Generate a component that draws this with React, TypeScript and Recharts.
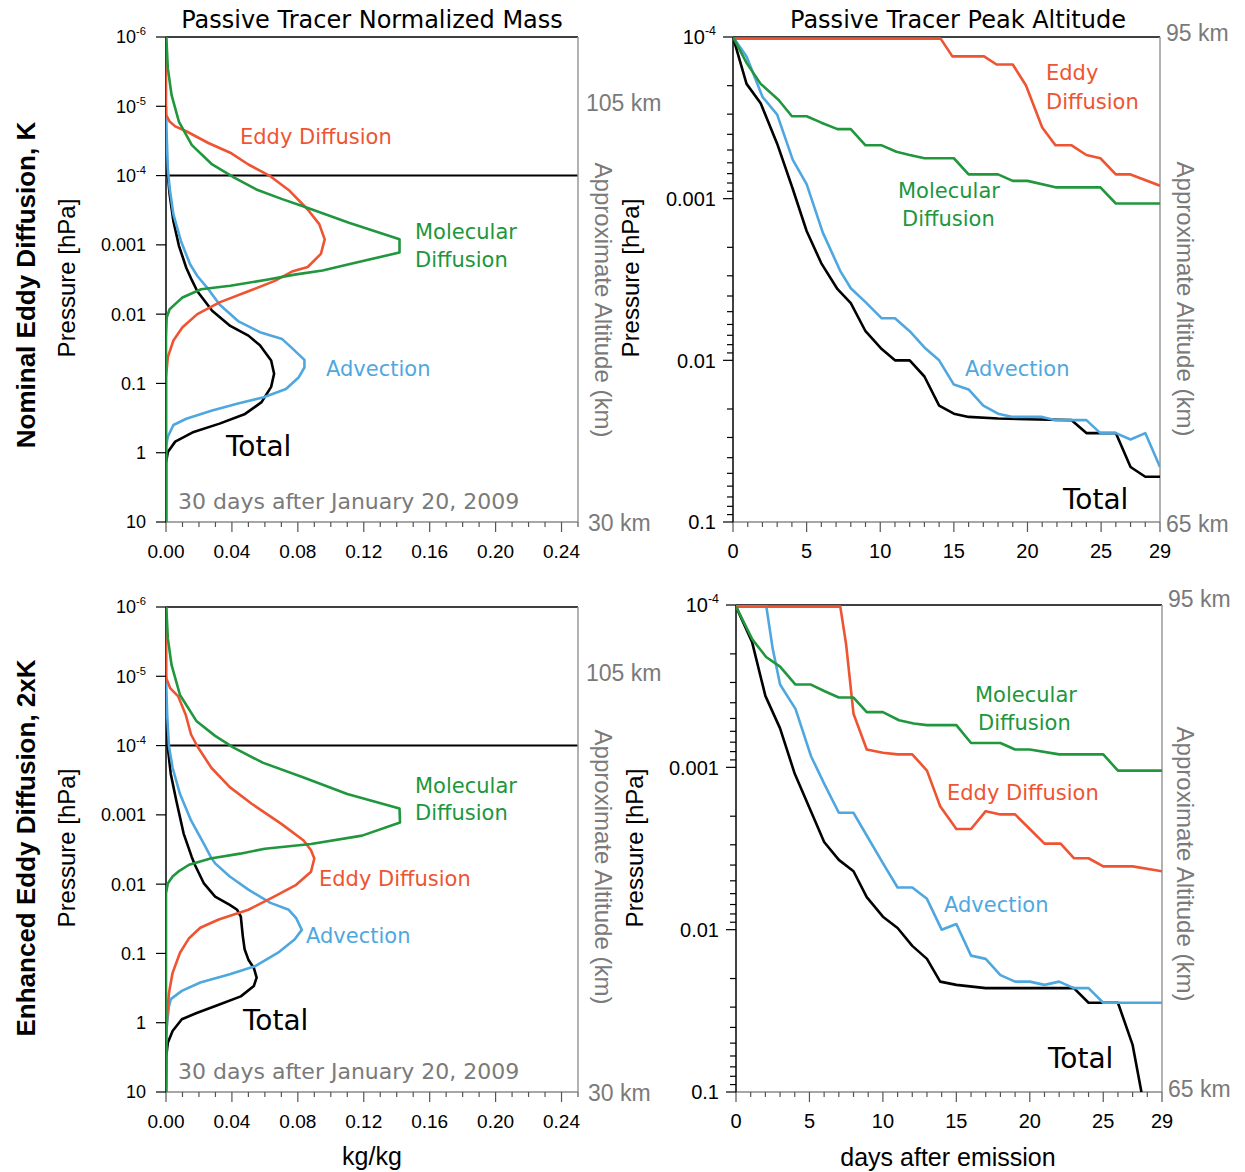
import React from 'react';
import { ScatterChart, Scatter, XAxis, YAxis, ReferenceLine } from 'recharts';

const RED = '#ee5432';
const GREEN = '#20963d';
const BLUE = '#4fa7df';
const BLACK = '#000000';
const GRAY = '#7a7a7a';
const SANS = '"Liberation Sans", Arial, sans-serif';
const HAND = '"DejaVu Sans", "Open Sans", sans-serif';

// --- mass profiles, 30 days after Jan 20 2009 (x = kg/kg, log10 of pressure in hPa)
const nomTotalMass = [0, 0.0004, 0.0011, 0.0022, 0.0045, 0.0078, 0.0123, 0.0157, 0.019, 0.028, 0.039, 0.05, 0.057, 0.0638, 0.0656, 0.0638, 0.058, 0.048, 0.0325, 0.0168, 0.0056, 0.0011, 0, 0];
const nomTotalLogP = [-4.6, -4.25, -4.01, -3.73, -3.34, -2.99, -2.67, -2.49, -2.33, -2.05, -1.83, -1.69, -1.55, -1.33, -1.14, -0.95, -0.73, -0.56, -0.42, -0.3, -0.16, -0.01, 0.15, 1];
const nomAdvMass = [0, 0.0004, 0.0011, 0.0022, 0.0045, 0.009, 0.0146, 0.019, 0.0257, 0.0325, 0.0437, 0.057, 0.0705, 0.076, 0.084, 0.084, 0.0806, 0.0728, 0.0593, 0.0437, 0.028, 0.0123, 0.0045, 0.0011, 0, 0];
const nomAdvLogP = [-5.0, -4.59, -4.11, -3.82, -3.44, -3.06, -2.72, -2.55, -2.36, -2.14, -1.9, -1.74, -1.64, -1.52, -1.34, -1.23, -1.09, -0.92, -0.8, -0.71, -0.61, -0.49, -0.4, -0.23, -0.09, 1];
const nomEddyMass = [0, 0, 0.0022, 0.0056, 0.0123, 0.0257, 0.039, 0.05, 0.0627, 0.075, 0.086, 0.093, 0.0963, 0.094, 0.086, 0.077, 0.066, 0.05, 0.0325, 0.019, 0.01, 0.0045, 0.0011, 0, 0];
const nomEddyLogP = [-6, -4.88, -4.78, -4.71, -4.64, -4.47, -4.33, -4.16, -4.0, -3.78, -3.51, -3.3, -3.08, -2.87, -2.68, -2.62, -2.48, -2.33, -2.17, -2.0, -1.81, -1.62, -1.38, -1.09, 1];
const nomMolMass = [0.0002, 0.0011, 0.0034, 0.0078, 0.0157, 0.028, 0.0414, 0.0548, 0.0705, 0.084, 0.111, 0.1417, 0.1417, 0.111, 0.095, 0.078, 0.062, 0.039, 0.0213, 0.01, 0.0067, 0.0022, 0.0004, 0, 0];
const nomMolLogP = [-6, -5.55, -5.16, -4.78, -4.44, -4.16, -3.97, -3.8, -3.66, -3.55, -3.32, -3.08, -2.89, -2.72, -2.63, -2.57, -2.5, -2.41, -2.36, -2.24, -2.17, -2.07, -1.95, -1.66, 1];

const enhTotalMass = [0, 0.0011, 0.0029, 0.0063, 0.0107, 0.0155, 0.0175, 0.023, 0.0298, 0.0387, 0.0432, 0.0454, 0.0466, 0.0477, 0.05, 0.0533, 0.055, 0.0533, 0.0454, 0.032, 0.0186, 0.0096, 0.004, 0.0011, 0.0002, 0];
const enhTotalLogP = [-4.6, -3.97, -3.59, -3.2, -2.73, -2.4, -2.28, -2.01, -1.82, -1.7, -1.63, -1.53, -1.25, -1.06, -0.91, -0.79, -0.65, -0.53, -0.38, -0.26, -0.14, -0.05, 0.12, 0.29, 0.48, 1];
const enhAdvMass = [0, 0.0007, 0.0018, 0.004, 0.0085, 0.0152, 0.023, 0.027, 0.0298, 0.0387, 0.05, 0.0634, 0.0745, 0.079, 0.0824, 0.078, 0.068, 0.0544, 0.0387, 0.0208, 0.0096, 0.0029, 0.0018, 0.0007, 0, 0];
const enhAdvLogP = [-5.0, -4.45, -3.99, -3.68, -3.3, -2.92, -2.58, -2.4, -2.3, -2.11, -1.92, -1.73, -1.63, -1.51, -1.34, -1.2, -1.01, -0.82, -0.7, -0.58, -0.46, -0.34, -0.24, 0.0, 0.19, 1];
const enhEddyMass = [0, 0.0002, 0.0025, 0.0074, 0.0119, 0.0152, 0.019, 0.0275, 0.0387, 0.052, 0.07, 0.0835, 0.088, 0.09, 0.088, 0.079, 0.0656, 0.05, 0.032, 0.0208, 0.014, 0.0085, 0.004, 0.0018, 0.0007, 0.0002, 0];
const enhEddyLogP = [-6, -4.97, -4.83, -4.71, -4.45, -4.16, -3.99, -3.68, -3.4, -3.16, -2.87, -2.63, -2.49, -2.37, -2.18, -1.99, -1.82, -1.63, -1.49, -1.37, -1.22, -1.01, -0.72, -0.43, -0.1, 0.19, 1];
const enhMolMass = [0.0002, 0.0011, 0.0034, 0.0085, 0.0186, 0.0298, 0.041, 0.059, 0.0835, 0.11, 0.1417, 0.142, 0.119, 0.088, 0.06, 0.045, 0.027, 0.014, 0.0074, 0.004, 0.0011, 0, 0];
const enhMolLogP = [-6, -5.55, -5.16, -4.73, -4.35, -4.14, -3.97, -3.75, -3.54, -3.3, -3.09, -2.89, -2.7, -2.58, -2.51, -2.44, -2.37, -2.28, -2.18, -2.11, -2.01, -1.87, 1];

// --- peak altitude vs days after emission (log10 of pressure in hPa)
const nomTotalDays = [0, 0.92, 1.88, 3.04, 4.06, 5, 6, 7.1, 8, 9, 10.1, 11, 12, 13, 14, 15, 16, 18, 23, 24, 26, 27, 28, 29];
const nomTotalPeak = [-4.0, -3.71, -3.59, -3.33, -3.06, -2.8, -2.6, -2.44, -2.354, -2.18, -2.07, -2.0, -2.0, -1.9, -1.72, -1.67, -1.65, -1.64, -1.63, -1.55, -1.55, -1.34, -1.28, -1.28];
const nomAdvDays = [0, 0.92, 2, 3, 4.06, 5, 6.1, 7.3, 8, 9, 10.1, 11, 12, 13, 14, 15, 16, 17, 18, 19, 21, 21.9, 24, 24.95, 26, 27, 28, 29];
const nomAdvPeak = [-4.0, -3.88, -3.63, -3.52, -3.24, -3.09, -2.79, -2.55, -2.446, -2.36, -2.26, -2.26, -2.18, -2.08, -2.0, -1.85, -1.82, -1.72, -1.67, -1.65, -1.65, -1.63, -1.63, -1.55, -1.55, -1.51, -1.55, -1.34];
const nomEddyDays = [0, 14.1, 14.9, 17.05, 17.9, 19, 19.9, 21, 21.9, 23, 24, 24.95, 26, 27, 29];
const nomEddyPeak = [-3.99, -3.99, -3.88, -3.88, -3.83, -3.83, -3.7, -3.44, -3.33, -3.33, -3.27, -3.25, -3.15, -3.15, -3.08];
const nomMolDays = [0, 0.92, 1.88, 3.1, 4, 5, 6, 7.1, 8, 9, 10.1, 11.1, 12, 13, 15, 16, 18, 19, 20, 21.9, 24.95, 26, 29];
const nomMolPeak = [-4.0, -3.84, -3.71, -3.61, -3.51, -3.51, -3.47, -3.43, -3.43, -3.33, -3.33, -3.29, -3.27, -3.25, -3.25, -3.15, -3.15, -3.11, -3.11, -3.07, -3.07, -2.97, -2.97];

const enhTotalDays = [0, 1.1, 2, 3, 4, 5.1, 6, 7, 8, 8.9, 10, 11, 12, 13, 13.9, 15, 17, 23, 24, 26, 27, 27.6];
const enhTotalPeak = [-3.99, -3.77, -3.44, -3.24, -2.96, -2.73, -2.54, -2.43, -2.36, -2.2, -2.08, -2.01, -1.9, -1.82, -1.68, -1.66, -1.64, -1.64, -1.55, -1.55, -1.29, -1.0];
const enhAdvDays = [0, 2.05, 2.5, 3, 4.05, 5.1, 6, 7, 8, 8.9, 10, 11, 12, 13, 14, 15, 16, 17, 18, 19, 20, 21, 22, 23, 24, 25, 29];
const enhAdvPeak = [-4.0, -4.0, -3.73, -3.51, -3.36, -3.07, -2.9, -2.72, -2.72, -2.58, -2.41, -2.26, -2.26, -2.19, -2.0, -2.035, -1.84, -1.82, -1.72, -1.68, -1.68, -1.66, -1.68, -1.64, -1.64, -1.55, -1.55];
const enhEddyDays = [0, 7.1, 7.5, 8, 8.9, 10, 11, 12, 13, 13.9, 15, 16, 17, 18, 19, 20, 21, 22.1, 23, 24, 25, 27, 29];
const enhEddyPeak = [-3.99, -3.99, -3.755, -3.33, -3.11, -3.09, -3.08, -3.08, -2.98, -2.76, -2.62, -2.62, -2.73, -2.71, -2.71, -2.62, -2.53, -2.53, -2.44, -2.44, -2.39, -2.39, -2.36];
const enhMolDays = [0, 1.1, 2.05, 3, 4.05, 5.1, 6, 7, 8, 8.9, 10, 11.1, 12.1, 13, 15, 16, 18, 19, 20, 22, 25, 26, 29];
const enhMolPeak = [-3.99, -3.79, -3.68, -3.62, -3.51, -3.51, -3.47, -3.43, -3.43, -3.34, -3.34, -3.29, -3.27, -3.26, -3.26, -3.15, -3.15, -3.11, -3.11, -3.08, -3.08, -2.98, -2.98];

// --- axes
const massTicks = [0, 0.01, 0.02, 0.03, 0.04, 0.05, 0.06, 0.07, 0.08, 0.09, 0.1, 0.11, 0.12, 0.13, 0.14, 0.15, 0.16, 0.17, 0.18, 0.19, 0.2, 0.21, 0.22, 0.23, 0.24, 0.25];
const massMajor = [0, 0.04, 0.08, 0.12, 0.16, 0.2, 0.24];
const profileTicks = [1e-6, 1e-5, 1e-4, 0.001, 0.01, 0.1, 1, 10];
const dayTicks = [0, 1, 2, 3, 4, 5, 6, 7, 8, 9, 10, 11, 12, 13, 14, 15, 16, 17, 18, 19, 20, 21, 22, 23, 24, 25, 26, 27, 28, 29];
const dayMajor = [0, 5, 10, 15, 20, 25, 29];
const peakMajor = [1e-4, 0.001, 0.01, 0.1];
const peakTicks = [
  1e-4, 2e-4, 3e-4, 4e-4, 5e-4, 6e-4, 7e-4, 8e-4, 9e-4,
  0.001, 0.002, 0.003, 0.004, 0.005, 0.006, 0.007, 0.008, 0.009,
  0.01, 0.02, 0.03, 0.04, 0.05, 0.06, 0.07, 0.08, 0.09, 0.1,
];

type Pt = { x: number; y: number };
const toPts = (xs: number[], logs: number[]): Pt[] => xs.map((x, i) => ({ x, y: Math.pow(10, logs[i]) }));
const near = (list: number[], v: number) => list.some((m) => Math.abs(m - v) <= Math.abs(m) * 1e-6 + 1e-9);

interface Series { pts: Pt[]; color: string }
interface PanelProps {
  plot: { x: number; y: number; w: number; h: number };
  xDomain: [number, number];
  yDomain: [number, number];
  xTicks: number[];
  xMajor: number[];
  xFmt: (v: number) => string;
  yTicks: number[];
  yMajor: number[];
  series: Series[];
  hLines?: number[];
  yFont: number;
  xFont: number;
  yGap: number;
}

function Panel(p: PanelProps) {
  const W = p.plot.w + 140;
  const H = p.plot.h + 80;

  const YTick = (props: any) => {
    const { x, y, payload } = props;
    const v = payload.value as number;
    const major = near(p.yMajor, v);
    let label: React.ReactNode = null;
    if (major) {
      const common = { x: x - p.yGap, y: y + p.yFont * 0.36, textAnchor: 'end' as const, fontSize: p.yFont, fontFamily: SANS, fill: '#000' };
      if (v < 0.001) {
        const exp = Math.round(Math.log10(v));
        label = (
          <text {...common}>
            10<tspan dy={-p.yFont * 0.45} fontSize={p.yFont * 0.62}>{exp}</tspan>
          </text>
        );
      } else {
        label = <text {...common}>{String(v)}</text>;
      }
    }
    return (
      <g>
        <line x1={x} x2={x - (major ? 10 : 6)} y1={y} y2={y} stroke="#000" strokeWidth={1.2} />
        {label}
      </g>
    );
  };

  const XTick = (props: any) => {
    const { x, y, payload } = props;
    const v = payload.value as number;
    const major = near(p.xMajor, v);
    return (
      <g>
        <line x1={x} x2={x} y1={y} y2={y + (major ? 10 : 5)} stroke="#555" strokeWidth={1.2} />
        {major && (
          <text x={x} y={y + 36} textAnchor="middle" fontSize={p.xFont} fontFamily={SANS} fill="#000">
            {p.xFmt(v)}
          </text>
        )}
      </g>
    );
  };

  return (
    <div style={{ position: 'absolute', left: p.plot.x - 100, top: p.plot.y - 30, width: W, height: H }}>
      <ScatterChart width={W} height={H} margin={{ top: 30, right: 40, bottom: 10, left: 40 }}>
        <XAxis
          type="number"
          dataKey="x"
          domain={p.xDomain}
          allowDataOverflow
          ticks={p.xTicks}
          interval={0}
          tick={XTick}
          tickLine={false}
          tickSize={0}
          tickMargin={0}
          height={40}
          axisLine={{ stroke: '#8a8a8a', strokeWidth: 1.5 }}
        />
        <YAxis
          type="number"
          dataKey="y"
          scale="log"
          domain={p.yDomain}
          allowDataOverflow
          reversed
          ticks={p.yTicks}
          interval={0}
          tick={YTick}
          tickLine={false}
          tickSize={0}
          tickMargin={0}
          width={60}
          axisLine={{ stroke: '#000', strokeWidth: 1.5 }}
        />
        {(p.hLines || []).map((v) => (
          <ReferenceLine key={'h' + v} y={v} stroke="#000" strokeWidth={2} />
        ))}
        {p.series.map((s, i) => (
          <Scatter
            key={i}
            data={s.pts}
            fill={s.color}
            isAnimationActive={false}
            line={{ stroke: s.color, strokeWidth: 2.6, strokeLinejoin: 'round' } as any}
            lineJointType="linear"
            shape={() => <g />}
          />
        ))}
        <ReferenceLine y={p.yDomain[0]} stroke="#000" strokeWidth={1.5} />
        <ReferenceLine x={p.xDomain[1]} stroke="#999" strokeWidth={1.5} />
      </ScatterChart>
    </div>
  );
}

const Txt = ({ x, y, s, c = '#000', f = HAND, size = 21, anchor = 'start', w = 'normal', rot = 0 }: any) => (
  <text
    x={x}
    y={y}
    fill={c}
    fontFamily={f}
    fontSize={size}
    fontWeight={w}
    textAnchor={anchor}
    transform={rot ? `rotate(${rot} ${x} ${y})` : undefined}
  >
    {s}
  </text>
);

export default function App() {
  const massFmt = (v: number) => v.toFixed(2);
  const dayFmt = (v: number) => String(v);

  return (
    <div style={{ position: 'absolute', left: 0, top: 0, width: 1245, height: 1172, background: '#fff' }}>
      <Panel
        plot={{ x: 166, y: 37, w: 412, h: 485 }}
        xDomain={[0, 0.25]}
        yDomain={[1e-6, 10]}
        xTicks={massTicks}
        xMajor={massMajor}
        xFmt={massFmt}
        yTicks={profileTicks}
        yMajor={profileTicks}
        hLines={[1e-4]}
        yFont={18}
        xFont={19}
        yGap={20}
        series={[
          { pts: toPts(nomTotalMass, nomTotalLogP), color: BLACK },
          { pts: toPts(nomAdvMass, nomAdvLogP), color: BLUE },
          { pts: toPts(nomEddyMass, nomEddyLogP), color: RED },
          { pts: toPts(nomMolMass, nomMolLogP), color: GREEN },
        ]}
      />
      <Panel
        plot={{ x: 733, y: 37, w: 427, h: 485 }}
        xDomain={[0, 29]}
        yDomain={[1e-4, 0.1]}
        xTicks={dayTicks}
        xMajor={dayMajor}
        xFmt={dayFmt}
        yTicks={peakTicks}
        yMajor={peakMajor}
        yFont={20}
        xFont={20}
        yGap={17}
        series={[
          { pts: toPts(nomTotalDays, nomTotalPeak), color: BLACK },
          { pts: toPts(nomAdvDays, nomAdvPeak), color: BLUE },
          { pts: toPts(nomEddyDays, nomEddyPeak), color: RED },
          { pts: toPts(nomMolDays, nomMolPeak), color: GREEN },
        ]}
      />
      <Panel
        plot={{ x: 166, y: 607, w: 412, h: 485 }}
        xDomain={[0, 0.25]}
        yDomain={[1e-6, 10]}
        xTicks={massTicks}
        xMajor={massMajor}
        xFmt={massFmt}
        yTicks={profileTicks}
        yMajor={profileTicks}
        hLines={[1e-4]}
        yFont={18}
        xFont={19}
        yGap={20}
        series={[
          { pts: toPts(enhTotalMass, enhTotalLogP), color: BLACK },
          { pts: toPts(enhAdvMass, enhAdvLogP), color: BLUE },
          { pts: toPts(enhEddyMass, enhEddyLogP), color: RED },
          { pts: toPts(enhMolMass, enhMolLogP), color: GREEN },
        ]}
      />
      <Panel
        plot={{ x: 736, y: 605, w: 426, h: 487 }}
        xDomain={[0, 29]}
        yDomain={[1e-4, 0.1]}
        xTicks={dayTicks}
        xMajor={dayMajor}
        xFmt={dayFmt}
        yTicks={peakTicks}
        yMajor={peakMajor}
        yFont={20}
        xFont={20}
        yGap={17}
        series={[
          { pts: toPts(enhTotalDays, enhTotalPeak), color: BLACK },
          { pts: toPts(enhAdvDays, enhAdvPeak), color: BLUE },
          { pts: toPts(enhEddyDays, enhEddyPeak), color: RED },
          { pts: toPts(enhMolDays, enhMolPeak), color: GREEN },
        ]}
      />

      <svg width={1245} height={1172} style={{ position: 'absolute', left: 0, top: 0, pointerEvents: 'none' }}>
        {/* titles */}
        <Txt x={372} y={28} s="Passive Tracer Normalized Mass" size={24} anchor="middle" />
        <Txt x={958} y={28} s="Passive Tracer Peak Altitude" size={24} anchor="middle" />

        {/* row labels and axis titles */}
        <Txt x={35} y={285} s="Nominal Eddy Diffusion, K" f={SANS} size={26} w="bold" anchor="middle" rot={-90} />
        <Txt x={35} y={848} s="Enhanced Eddy Diffusion, 2xK" f={SANS} size={26} w="bold" anchor="middle" rot={-90} />
        <Txt x={75} y={278} s="Pressure [hPa]" f={SANS} size={24} anchor="middle" rot={-90} />
        <Txt x={75} y={848} s="Pressure [hPa]" f={SANS} size={24} anchor="middle" rot={-90} />
        <Txt x={639} y={278} s="Pressure [hPa]" f={SANS} size={24} anchor="middle" rot={-90} />
        <Txt x={643} y={848} s="Pressure [hPa]" f={SANS} size={24} anchor="middle" rot={-90} />
        <Txt x={595} y={300} s="Approximate Altitude (km)" f={SANS} size={24} c={GRAY} anchor="middle" rot={90} />
        <Txt x={595} y={867} s="Approximate Altitude (km)" f={SANS} size={24} c={GRAY} anchor="middle" rot={90} />
        <Txt x={1177} y={299} s="Approximate Altitude (km)" f={SANS} size={24} c={GRAY} anchor="middle" rot={90} />
        <Txt x={1177} y={864} s="Approximate Altitude (km)" f={SANS} size={24} c={GRAY} anchor="middle" rot={90} />
        <Txt x={586} y={111} s="105 km" f={SANS} size={23} c={GRAY} />
        <Txt x={588} y={531} s="30 km" f={SANS} size={23} c={GRAY} />
        <Txt x={586} y={681} s="105 km" f={SANS} size={23} c={GRAY} />
        <Txt x={588} y={1101} s="30 km" f={SANS} size={23} c={GRAY} />
        <Txt x={1166} y={41} s="95 km" f={SANS} size={23} c={GRAY} />
        <Txt x={1166} y={532} s="65 km" f={SANS} size={23} c={GRAY} />
        <Txt x={1168} y={607} s="95 km" f={SANS} size={23} c={GRAY} />
        <Txt x={1168} y={1097} s="65 km" f={SANS} size={23} c={GRAY} />
        <Txt x={372} y={1165} s="kg/kg" f={SANS} size={25} anchor="middle" />
        <Txt x={948} y={1166} s="days after emission" f={SANS} size={25} anchor="middle" />

        {/* nominal, profiles */}
        <Txt x={240} y={144} s="Eddy Diffusion" c={RED} />
        <Txt x={415} y={239} s="Molecular" c={GREEN} />
        <Txt x={415} y={267} s="Diffusion" c={GREEN} />
        <Txt x={326} y={376} s="Advection" c={BLUE} />
        <Txt x={226} y={456} s="Total" size={28} />
        <Txt x={178} y={509} s="30 days after January 20, 2009" size={22} c={GRAY} />

        {/* nominal, peak altitude */}
        <Txt x={1046} y={80} s="Eddy" c={RED} />
        <Txt x={1046} y={109} s="Diffusion" c={RED} />
        <Txt x={898} y={198} s="Molecular" c={GREEN} />
        <Txt x={902} y={226} s="Diffusion" c={GREEN} />
        <Txt x={965} y={376} s="Advection" c={BLUE} />
        <Txt x={1063} y={509} s="Total" size={28} />

        {/* enhanced, profiles */}
        <Txt x={415} y={793} s="Molecular" c={GREEN} />
        <Txt x={415} y={820} s="Diffusion" c={GREEN} />
        <Txt x={319} y={886} s="Eddy Diffusion" c={RED} />
        <Txt x={306} y={943} s="Advection" c={BLUE} />
        <Txt x={243} y={1030} s="Total" size={28} />
        <Txt x={178} y={1079} s="30 days after January 20, 2009" size={22} c={GRAY} />

        {/* enhanced, peak altitude */}
        <Txt x={975} y={702} s="Molecular" c={GREEN} />
        <Txt x={978} y={730} s="Diffusion" c={GREEN} />
        <Txt x={947} y={800} s="Eddy Diffusion" c={RED} />
        <Txt x={944} y={912} s="Advection" c={BLUE} />
        <Txt x={1048} y={1068} s="Total" size={28} />
      </svg>
    </div>
  );
}
